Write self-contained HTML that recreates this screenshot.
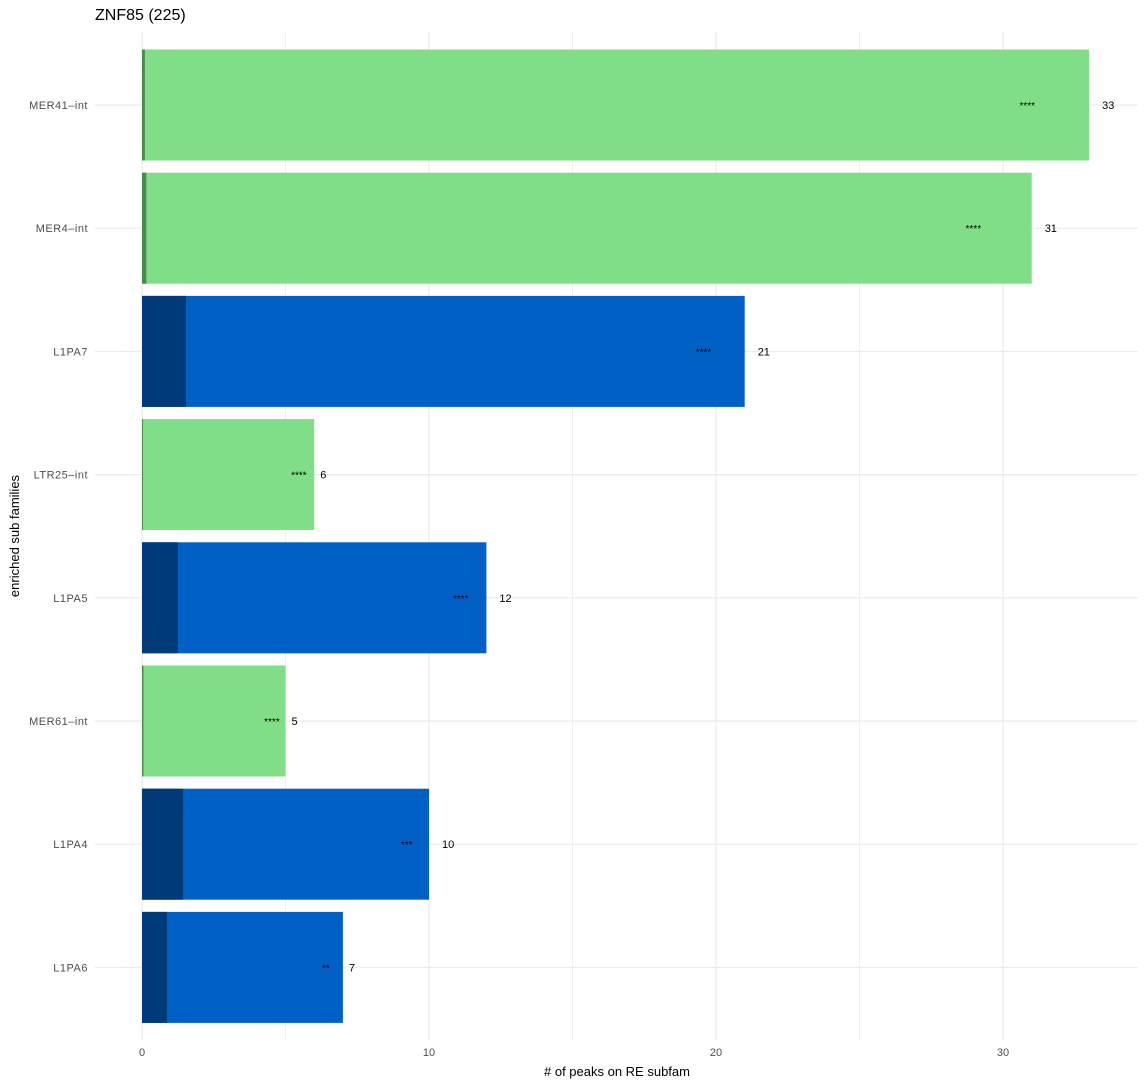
<!DOCTYPE html>
<html><head><meta charset="utf-8"><style>
body{margin:0;background:#fff;font-family:"Liberation Sans","DejaVu Sans",sans-serif}
</style></head><body>
<svg id="c" width="1146" height="1087" xmlns="http://www.w3.org/2000/svg"></svg>
<script>
const categories=["MER41-int","MER4-int","L1PA7","LTR25-int","L1PA5","MER61-int","L1PA4","L1PA6"];
const observed=[33,31,21,6,12,5,10,7];
const expected=[0.1,0.15,1.53,0.03,1.25,0.05,1.43,0.87];
const families=["LTR","LTR","L1","LTR","L1","LTR","L1","L1"];
const stars=["****","****","****","****","****","****","***","**"];
const xTicks=[0,10,20,30];
const xMinor=[5,15,25];
const svg=document.getElementById('c');
const NS="http://www.w3.org/2000/svg";
const x=v=>142+v*28.7;
const y=i=>105+i*123.2;
const bh=111;
function mk(t,a,p){const e=document.createElementNS(NS,t);for(const k in a)e.setAttribute(k,a[k]);(p||svg).appendChild(e);return e;}
const colors={LTR:["#80de86","#4a8a50"],L1:["#0060c6","#003a78"]};
xMinor.forEach(v=>{const l=mk('line',{x1:x(v),x2:x(v),y1:32,y2:1040,stroke:'#f0f0f0','stroke-width':1});
});
xTicks.forEach(v=>{const l=mk('line',{x1:x(v),x2:x(v),y1:32,y2:1040,stroke:'#ebebeb','stroke-width':1.2});

const t=mk('text',{x:x(v),y:1056,'text-anchor':'middle','font-size':11,fill:'#4d4d4d'});t.textContent=v;
});
categories.forEach((c,i)=>{
const l=mk('line',{x1:95,x2:1138,y1:y(i),y2:y(i),stroke:'#ebebeb','stroke-width':1.2});

const t=mk('text',{x:88,y:y(i)+4,'text-anchor':'end','font-size':11,fill:'#4d4d4d','letter-spacing':'0.5'});t.textContent=c.replace('-','\u2013');

const col=colors[families[i]];
const b=mk('rect',{x:x(0),y:y(i)-bh/2,width:x(observed[i])-x(0),height:bh,fill:col[0]});

const e=mk('rect',{x:x(0),y:y(i)-bh/2,width:Math.max(x(expected[i])-x(0),1),height:bh,fill:col[1]});

const s=mk('text',{x:x(observed[i]*0.94)-5,y:y(i)+4,'text-anchor':'middle','font-size':10,fill:'#000'});s.textContent=stars[i];

const v=mk('text',{x:x(observed[i])+(observed[i]>=10?13:6),y:y(i)+4,'font-size':11,fill:'#000'});v.textContent=observed[i];

});
const ti=mk('text',{x:95,y:20,'font-size':16,fill:'#000'});ti.textContent="ZNF85 (225)";

const xt=mk('text',{x:617,y:1076,'text-anchor':'middle','font-size':13,fill:'#000'});xt.textContent="# of peaks on RE subfam";

const yt=mk('text',{x:19,y:536,'text-anchor':'middle','font-size':13,fill:'#000',transform:'rotate(-90 19 536)'});yt.textContent="enriched sub families";

</script>
</body></html>
